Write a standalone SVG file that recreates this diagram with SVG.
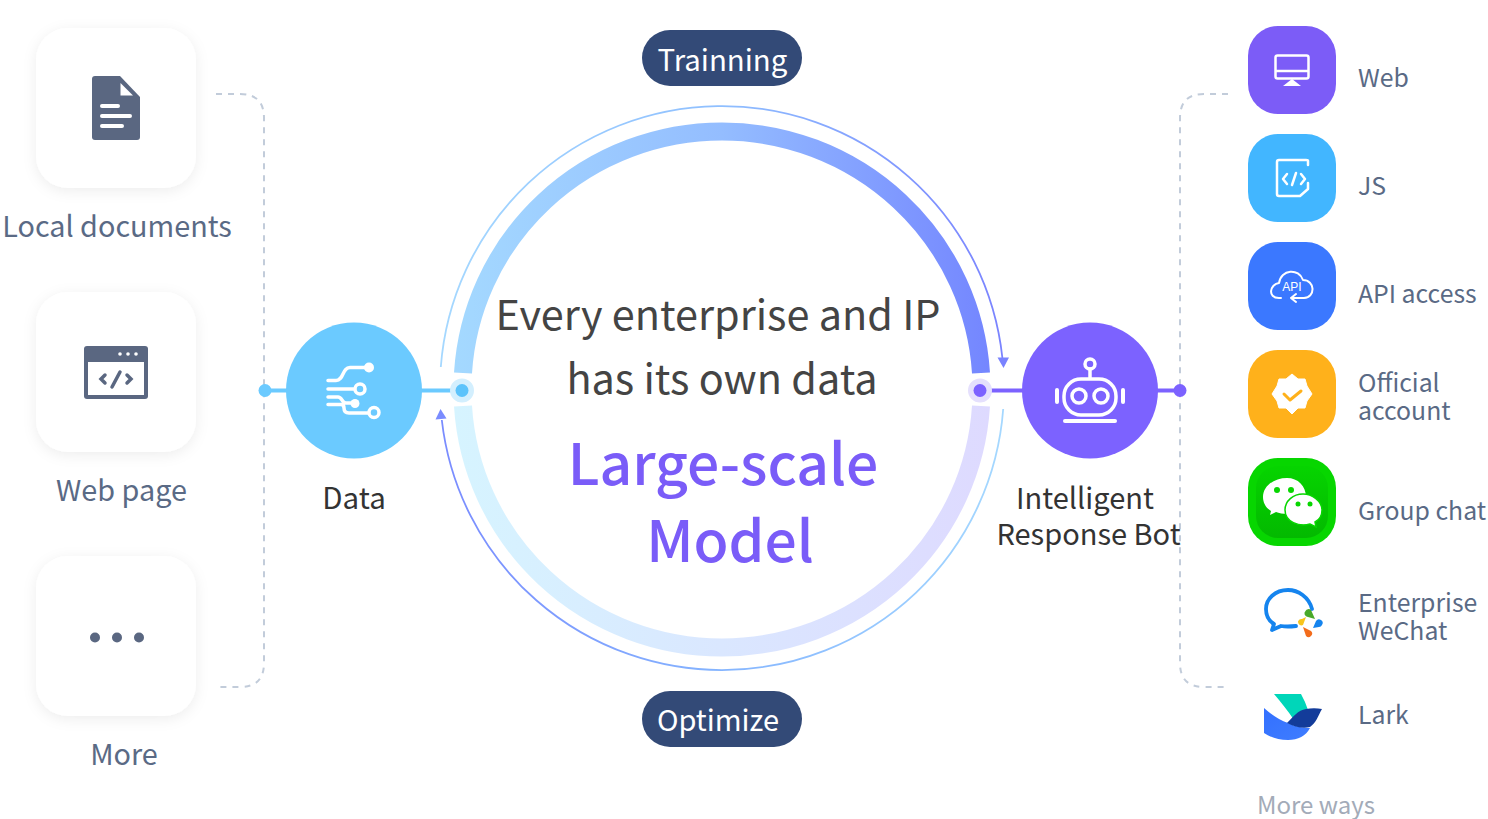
<svg xmlns="http://www.w3.org/2000/svg" width="1488" height="819" viewBox="0 0 1488 819">
<style>
text{font-family:"Noto Sans CJK SC","Noto Sans",sans-serif}
.src{font-size:28.800px;fill:#5a6a85}
.chan{font-size:24.800px;fill:#5a6a85}
.w{fill:none;stroke:#fff;stroke-linecap:round;stroke-linejoin:round}
.g{fill:#5a6781}
.card{fill:#fff;filter:url(#sh)}
.dash{fill:none;stroke:#c2ccda;stroke-width:2;stroke-dasharray:6 6}
</style>
<defs>
<filter id="sh" x="-25%" y="-25%" width="150%" height="150%"><feDropShadow dx="0" dy="3" stdDeviation="7" flood-color="#000" flood-opacity=".07"/></filter>
<linearGradient id="top" gradientUnits="userSpaceOnUse" x1="453" y1="250" x2="990" y2="250"><stop offset="0" stop-color="#a4d9ff"/><stop offset=".5" stop-color="#94bdff"/><stop offset="1" stop-color="#7486ff"/></linearGradient>
<linearGradient id="bot" gradientUnits="userSpaceOnUse" x1="453" y1="500" x2="990" y2="500"><stop offset="0" stop-color="#d6f4ff"/><stop offset="1" stop-color="#dedaff"/></linearGradient>
<linearGradient id="ttop" gradientUnits="userSpaceOnUse" x1="440" y1="250" x2="1004" y2="250"><stop offset="0" stop-color="#a5d8ff"/><stop offset=".5" stop-color="#8fbfff"/><stop offset="1" stop-color="#7a83ff"/></linearGradient>
<linearGradient id="tbot" gradientUnits="userSpaceOnUse" x1="1004" y1="500" x2="440" y2="500"><stop offset="0" stop-color="#a5d8ff"/><stop offset=".5" stop-color="#85b5ff"/><stop offset="1" stop-color="#7a8cff"/></linearGradient>
<linearGradient id="lark" x1="0" y1="0" x2="1" y2="1"><stop offset="0" stop-color="#3370ff"/><stop offset="1" stop-color="#3f7dff"/></linearGradient>
<linearGradient id="wx" x1="0" y1="0" x2="0" y2="1"><stop offset="0" stop-color="#06d400"/><stop offset="1" stop-color="#03b900"/></linearGradient>
</defs>

<g id="connectors">
<path class="dash" d="M216 94H240Q264 94 264 118V663Q264 687 240 687H216"/>
<path class="dash" d="M1228 94H1204Q1180 94 1180 118V663Q1180 687 1204 687H1228"/>
<path d="M265 390.500H462" stroke="#6bcaff" stroke-width="4"/>
<circle cx="265" cy="390.500" r="6.500" fill="#6bcaff"/>
<circle cx="462" cy="390.500" r="12" fill="#d3effe"/>
<circle cx="462" cy="390.500" r="6.500" fill="#5cc3fb"/>
<path d="M980 390.500H1180" stroke="#7c62ff" stroke-width="4"/>
<circle cx="1180" cy="390.500" r="6.500" fill="#7c62ff"/>
<circle cx="980" cy="390.500" r="12" fill="#e5e0fd"/>
<circle cx="980" cy="390.500" r="6.500" fill="#7c62ff"/>
</g>

<g id="ring">
<path d="M463 373A259.500 257.500 0 0 1 981 373" fill="none" stroke="url(#top)" stroke-width="18"/>
<path d="M463 406A259.500 257.500 0 0 0 981 406" fill="none" stroke="url(#bot)" stroke-width="18"/>
<path d="M440.800 367A282 282 0 0 1 1002.400 358" fill="none" stroke="url(#ttop)" stroke-width="1.800"/>
<path d="M1003.200 409A282 282 0 0 1 441.800 420" fill="none" stroke="url(#tbot)" stroke-width="1.800"/>
<path d="M997.500 357.500L1009 357.500L1003.500 368Z" fill="#7a83ff"/>
<path d="M435.500 419.500L446.500 418.500L440.500 409Z" fill="#7a8cff"/>
</g>

<g id="trainning"><rect x="642" y="30" width="160" height="56" rx="28" fill="#334a77"/><text x="722.500" y="71" text-anchor="middle" font-size="29.400" fill="#fff">Trainning</text></g>
<g id="optimize"><rect x="642" y="691" width="160" height="56" rx="28" fill="#334a77"/><text x="718" y="731" text-anchor="middle" font-size="29" fill="#fff">Optimize</text></g>

<g id="center">
<text x="718" y="330" text-anchor="middle" font-size="41.400" fill="#444">Every enterprise and IP</text>
<text x="722" y="394" text-anchor="middle" font-size="41.400" fill="#444">has its own data</text>
<text x="723" y="485" text-anchor="middle" font-size="57" font-weight="500" fill="#7a5cf8">Large-scale</text>
<text x="730" y="562" text-anchor="middle" font-size="57" font-weight="500" fill="#7a5cf8">Model</text>
</g>

<g id="local-documents">
<rect class="card" x="36" y="28" width="160" height="160" rx="32"/>
<path class="g" d="M95 76H120L140 97V137Q140 140 137 140H95Q92 140 92 137V79Q92 76 95 76Z"/>
<path d="M120.500 83V95.500H133Z" fill="#fff"/>
<path class="w" stroke-width="4" d="M102 106H118M102 116H130M102 126H122"/>
<text class="src" x="117" y="237" text-anchor="middle">Local documents</text>
</g>
<g id="web-page">
<rect class="card" x="36" y="292" width="160" height="160" rx="32"/>
<rect class="g" x="84" y="346" width="64" height="53" rx="3"/>
<rect x="88" y="362" width="56" height="33" fill="#fff"/>
<circle cx="120" cy="354" r="1.800" fill="#fff"/><circle cx="128" cy="354" r="1.800" fill="#fff"/><circle cx="136" cy="354" r="1.800" fill="#fff"/>
<path d="M105 375L101 379L105 383M127 375L131 379L127 383M120 372L112 387" fill="none" stroke="#5a6781" stroke-width="3.500" stroke-linecap="round"/>
<text class="src" x="121.500" y="501" text-anchor="middle">Web page</text>
</g>
<g id="more">
<rect class="card" x="36" y="556" width="160" height="160" rx="32"/>
<circle cx="95" cy="637.500" r="5" class="g"/><circle cx="117" cy="637.500" r="5" class="g"/><circle cx="139" cy="637.500" r="5" class="g"/>
<text class="src" x="124" y="765" text-anchor="middle">More</text>
</g>

<g id="data">
<circle cx="354" cy="390.500" r="68" fill="#6bcaff"/>
<path class="w" stroke-width="3.500" d="M328 380.500H336C344 380.500 342 367.500 350 367.500H368M328 389H355M328 397H338C342 397 342 403 346 403H355M328 404.500H341Q344 404.500 344 408Q344 413 349 413H368"/>
<circle cx="369" cy="367.500" r="5" fill="#fff"/>
<circle cx="360" cy="389" r="5" fill="#6bcaff" stroke="#fff" stroke-width="3.500"/>
<circle cx="355" cy="403.500" r="4.500" fill="#fff"/>
<circle cx="374" cy="412.500" r="5" fill="#6bcaff" stroke="#fff" stroke-width="3.500"/>
<text x="354" y="509" text-anchor="middle" font-size="29.500" fill="#333">Data</text>
</g>

<g id="bot">
<circle cx="1090" cy="390.500" r="68" fill="#7c62ff"/>
<circle cx="1090" cy="364" r="5" fill="none" stroke="#fff" stroke-width="3.500"/>
<path class="w" stroke-width="3.500" d="M1090 369V378"/>
<rect x="1064" y="379" width="52" height="36" rx="17" fill="none" stroke="#fff" stroke-width="3.500"/>
<circle cx="1079" cy="396" r="7" fill="none" stroke="#fff" stroke-width="3.500"/>
<circle cx="1101" cy="396" r="7" fill="none" stroke="#fff" stroke-width="3.500"/>
<path class="w" stroke-width="4" d="M1057 390V402M1123 390V402"/>
<path class="w" stroke-width="4" d="M1065 421H1115"/>
<text x="1085" y="509" text-anchor="middle" font-size="29" fill="#333">Intelligent</text>
<text x="1088.500" y="545" text-anchor="middle" font-size="29" fill="#333">Response Bot</text>
</g>

<g id="web">
<rect x="1248" y="26" width="88" height="88" rx="30" fill="#7c5cf7"/>
<rect x="1275.500" y="55.500" width="33" height="23" rx="2" fill="none" stroke="#fff" stroke-width="2.500"/>
<path d="M1276 71H1308" stroke="#fff" stroke-width="2.500"/>
<path d="M1292 79L1301 86H1283Z" fill="#fff"/>
<text class="chan" x="1358" y="87">Web</text>
</g>
<g id="js">
<rect x="1248" y="134" width="88" height="88" rx="30" fill="#42b6ff"/>
<path class="w" stroke-width="2.500" d="M1308 165V161Q1308 160 1306 160H1279Q1277 160 1277 162V194Q1277 196 1279 196H1300L1308 189V183"/>
<path class="w" stroke-width="2.500" d="M1287 174L1283 179L1287 184M1301 174L1305 179L1301 184M1296 173L1292 185"/>
<text class="chan" x="1358" y="195">JS</text>
</g>
<g id="api">
<rect x="1248" y="242" width="88" height="88" rx="30" fill="#3b78ff"/>
<path class="w" stroke-width="2" d="M1281 298H1279C1267 298 1270 284 1279 283C1281 269 1299 268 1303 280C1315 280 1316 297 1304 298H1292M1296 294L1291 298L1296 302"/>
<text x="1292" y="291" text-anchor="middle" font-size="12" fill="#fff" style="font-family:'Liberation Sans',sans-serif">API</text>
<text class="chan" x="1358" y="303">API access</text>
</g>
<g id="official">
<rect x="1248" y="350" width="88" height="88" rx="30" fill="#ffb11b"/>
<path d="M1292 374L1298 379L1305 379L1307 386L1312 394L1307 401L1305 408L1298 408L1292 414L1286 408L1279 408L1277 401L1272 394L1277 386L1279 379L1286 379Z" fill="#fff" stroke="#fff" stroke-width="1" stroke-linejoin="round"/>
<path d="M1284 394L1290 400L1301 391" fill="none" stroke="#ffb11b" stroke-width="3" stroke-linecap="round" stroke-linejoin="round"/>
<text class="chan" x="1358" y="392">Official</text>
<text class="chan" x="1358" y="420">account</text>
</g>
<g id="group-chat">
<rect x="1248" y="458" width="88" height="88" rx="30" fill="#07d600"/>
<rect x="1256" y="466" width="72" height="72" rx="22" fill="url(#wx)"/>
<path d="M1287 478C1274 478 1263 486 1263 497C1263 503 1266 508 1271 511L1270 515L1276 512C1279 513 1283 514 1287 514C1299 514 1306 508 1306 497C1306 486 1298 478 1287 478Z" fill="#fff"/>
<circle cx="1277" cy="490" r="3" fill="#07d600"/><circle cx="1291" cy="490" r="3" fill="#07d600"/>
<path d="M1303 494C1312 494 1322 501 1322 510C1322 516 1319 520 1315 522L1316 527L1310 524C1299 527 1285 522 1285 510C1285 501 1293 494 1303 494Z" fill="#fff" stroke="#07d600" stroke-width="1.500"/>
<circle cx="1298" cy="504" r="2.500" fill="#07d600"/><circle cx="1310" cy="504" r="2.500" fill="#07d600"/>
<text class="chan" x="1358" y="520">Group chat</text>
</g>
<g id="wecom">
<path d="M1312 609C1309 597 1298 590 1288 590C1275 590 1266 599 1266 609C1266 616 1269 621 1274 624L1272 630L1281 626Q1287 627 1296 626" fill="none" stroke="#1584ee" stroke-width="3.800" stroke-linecap="round" stroke-linejoin="round"/>
<path d="M1298 621.500A3.500 3.500 0 0 1 1302 619L1306 617L1303 625A3.500 3.500 0 0 1 1298 621.500Z" fill="#f8c51c"/>
<path d="M1305.500 611A3.500 3.500 0 0 1 1311 610L1315 619L1308 617A3.500 3.500 0 0 1 1305.500 611Z" fill="#49a92a"/>
<path d="M1316 621A3.500 3.500 0 0 1 1322 625A3.500 3.500 0 0 1 1319 627L1313 628Z" fill="#1584ee"/>
<path d="M1303 627L1311 631A3.500 3.500 0 0 1 1306 636Z" fill="#f36c1b"/>
<text class="chan" x="1358" y="612">Enterprise</text>
<text class="chan" x="1358" y="640">WeChat</text>
</g>
<g id="lark">
<path d="M1274 694H1301Q1305 701 1308 710L1294 720C1288 711 1281 702 1274 694Z" fill="#00d6b9"/>
<path d="M1264 708C1273 716 1280 720 1288 723C1296 727 1303 728 1310 728C1306 736 1298 740 1288 740C1278 740 1270 737 1264 733Z" fill="url(#lark)"/>
<path d="M1287 723C1293 717 1298 710 1306 709C1311 708 1317 708 1322 709C1318 716 1316 723 1310 727C1303 729 1295 727 1287 723Z" fill="#133c9a"/>
<text class="chan" x="1358" y="724">Lark</text>
</g>
<text id="more-ways" x="1257" y="814" font-size="24" fill="#a3abb8">More ways</text>
</svg>
